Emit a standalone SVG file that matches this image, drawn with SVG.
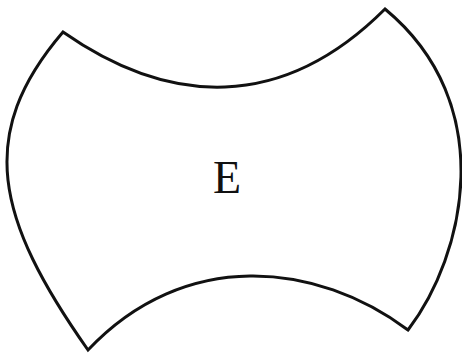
<svg xmlns="http://www.w3.org/2000/svg" width="462" height="361" viewBox="0 0 462 361">
<style>
.shape{fill:#ffffff;stroke:#111111;stroke-width:3;stroke-linejoin:miter;stroke-miterlimit:20}
.lbl{font-family:"Liberation Serif","Times New Roman",serif;font-size:46px;fill:#111111}
</style>
<rect width="462" height="361" fill="#ffffff"/>
<g id="shapeE">
<path class="shape" d="M63,32 C168.9,106.1 281.8,112.2 385,9 C499.6,103.8 465.3,255 408,330 C316.8,261.6 184.5,247.7 88,350 C-4.4,218.6 -24.6,134.2 63,32 Z"/>
<text class="lbl" x="227" y="193" text-anchor="middle">E</text>
</g>
</svg>
